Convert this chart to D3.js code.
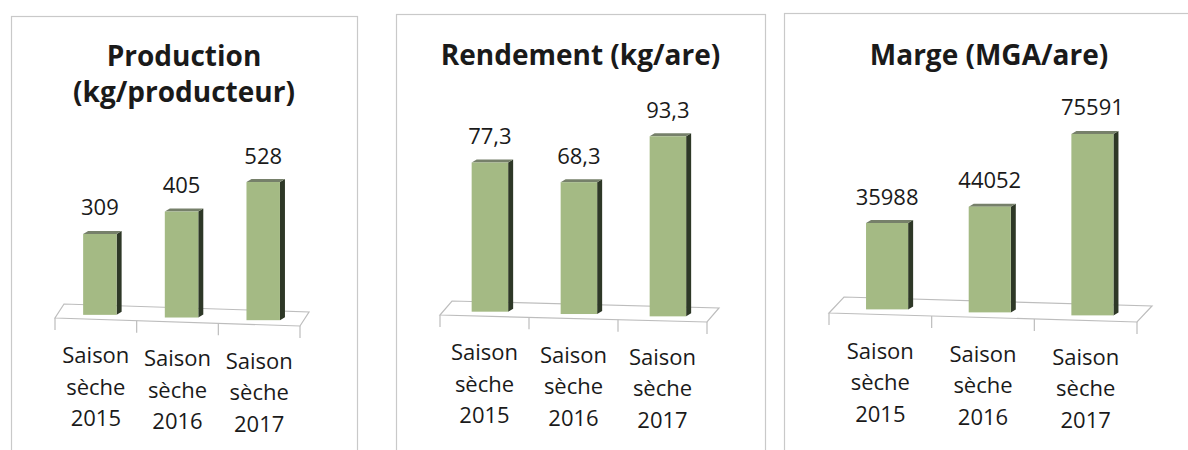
<!DOCTYPE html>
<html>
<head>
<meta charset="utf-8">
<script src="https://cdn.jsdelivr.net/npm/d3@7"></script>
<style>
    body { margin: 0; background: #ffffff; }
    svg { display: block; }
    text { font-family: "Open Sans", "Noto Sans", sans-serif; fill: #1a1a1a; }
</style>
</head>
<body>
<svg id="chart"></svg>
<script>
// data
const categories = ['Saison sèche 2015', 'Saison sèche 2016', 'Saison sèche 2017'];
const productionValues = [309, 405, 528];
const rendementValues = [77.3, 68.3, 93.3];
const margeValues = [35988, 44052, 75591];
const panelTitles = [
    ['Production', '(kg/producteur)'],
    ['Rendement (kg/are)'],
    ['Marge (MGA/are)'],
];

const frFormat = (v) => String(v).replace('.', ',');

class Panels {
    constructor (selector) {
        this.svg = d3.select(selector)
            .attr('width', 1188)
            .attr('height', 450);
    }
    layouts () {
        return [
            { box: [11, 16, 357, 470], fx: [55, 300], fy: [318, 326], back: [9, -14],
              domain: 600, height: 157, titleY: 66, titleDy: 36,
              values: productionValues, titles: panelTitles[0] },
            { box: [396, 14, 765, 470], fx: [440, 707], fy: [315, 322], back: [12, -14],
              domain: 100, height: 193, titleY: 65, titleDy: 36,
              values: rendementValues, titles: panelTitles[1] },
            { box: [784, 13, 1210, 470], fx: [829, 1137], fy: [313, 322], back: [15, -16],
              domain: 80000, height: 192, titleY: 65, titleDy: 36,
              values: margeValues, titles: panelTitles[2] },
        ];
    }
    draw () {
        for (let p of this.layouts())
            this.drawPanel(p);
    }
    drawPanel (p) {
        let g = this.svg.append('g');

        g.append('rect')
            .attr('x', p.box[0] + 0.5)
            .attr('y', p.box[1] + 0.5)
            .attr('width', p.box[2] - p.box[0])
            .attr('height', p.box[3] - p.box[1])
            .attr('fill', '#ffffff')
            .attr('stroke', '#c9c9c9')
            .attr('stroke-width', 1.2);

        g.selectAll('text.title')
            .data(p.titles)
            .enter()
            .append('text')
            .attr('class', 'title')
            .attr('x', (p.box[0] + p.box[2] > 1188 ? 989 * 2 : p.box[0] + p.box[2]) / 2)
            .attr('y', (d, i) => p.titleY + i * p.titleDy)
            .attr('text-anchor', 'middle')
            .attr('font-size', 28)
            .attr('font-weight', 'bold')
            .text((d) => d);

        let x = d3.scaleBand()
            .domain(categories)
            .range(p.fx)
            .paddingInner(0.59)
            .paddingOuter(0.295);
        let y = d3.scaleLinear()
            .domain([0, p.domain])
            .range([0, p.height]);
        let floorY = d3.scaleLinear()
            .domain(p.fx)
            .range(p.fy);

        let step = x.step();
        let bx = p.back[0], by = p.back[1];
        let fl = [p.fx[0], floorY(p.fx[0])];
        let fr = [p.fx[1], floorY(p.fx[1])];

        // floor
        g.append('polygon')
            .attr('points', [fl, fr, [fr[0] + bx, fr[1] + by], [fl[0] + bx, fl[1] + by]].join(' '))
            .attr('fill', 'none')
            .attr('stroke', '#bdbdbd')
            .attr('stroke-width', 1.2);

        let ticks = d3.range(categories.length + 1).map((i) => p.fx[0] + i * step);
        g.selectAll('line.tick')
            .data(ticks)
            .enter()
            .append('line')
            .attr('class', 'tick')
            .attr('x1', (d) => d)
            .attr('x2', (d) => d)
            .attr('y1', (d) => floorY(d))
            .attr('y2', (d) => floorY(d) + 12)
            .attr('stroke', '#bdbdbd')
            .attr('stroke-width', 1.2);

        let dx = bx * 0.45, dy = by * 0.32;
        let bars = categories.map((c, i) => {
            let xl = x(c) + dx;
            let xr = xl + x.bandwidth();
            let bottom = floorY(x(c) + x.bandwidth() / 2) + dy;
            let top = bottom - y(p.values[i]);
            return { c: c, v: p.values[i], xl: xl, xr: xr, top: top, bottom: bottom };
        });

        let depth = 5, rise = 3;
        let bg = g.selectAll('g.bar')
            .data(bars)
            .enter()
            .append('g')
            .attr('class', 'bar');

        bg.append('polygon')
            .attr('points', (d) => [[d.xr, d.top], [d.xr + depth, d.top - rise],
                                    [d.xr + depth, d.bottom - rise], [d.xr, d.bottom]].join(' '))
            .attr('fill', '#2e3827');
        bg.append('polygon')
            .attr('points', (d) => [[d.xl, d.top], [d.xl + depth, d.top - rise],
                                    [d.xr + depth, d.top - rise], [d.xr, d.top]].join(' '))
            .attr('fill', '#76806a');
        bg.append('rect')
            .attr('x', (d) => d.xl)
            .attr('y', (d) => d.top)
            .attr('width', (d) => d.xr - d.xl)
            .attr('height', (d) => d.bottom - d.top)
            .attr('fill', '#a4ba84');

        bg.append('text')
            .attr('x', (d) => (d.xl + d.xr) / 2)
            .attr('y', (d) => d.top - 18.5)
            .attr('text-anchor', 'middle')
            .attr('font-size', 22)
            .text((d) => frFormat(d.v));

        let lab = g.selectAll('text.cat')
            .data(categories)
            .enter()
            .append('text')
            .attr('class', 'cat')
            .attr('text-anchor', 'middle')
            .attr('font-size', 22);

        lab.selectAll('tspan')
            .data((c) => c.split(' ').map((w) => ({ w: w, c: c })))
            .enter()
            .append('tspan')
            .attr('x', (d) => x(d.c) + x.bandwidth() / 2)
            .attr('y', (d, i) => floorY(x(d.c) + x.bandwidth() / 2) + 44 + i * 31.5)
            .text((d) => d.w);
    }
}

new Panels('#chart').draw();
</script>
</body>
</html>
